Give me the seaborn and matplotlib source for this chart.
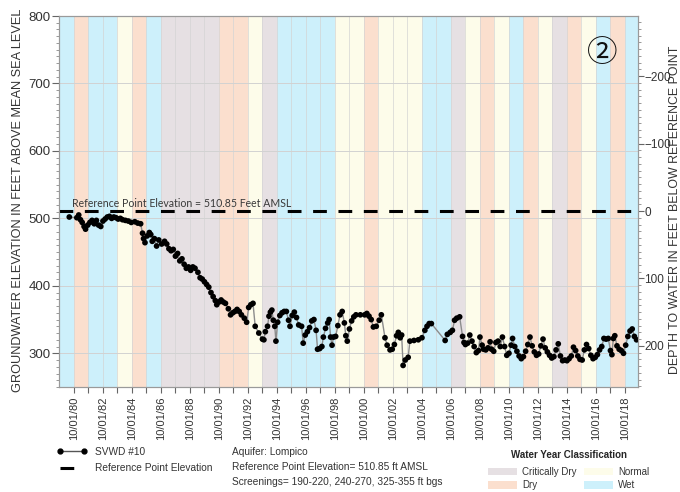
import matplotlib
matplotlib.use("Agg")
import matplotlib.pyplot as plt
import seaborn as sns
import pandas as pd
from matplotlib.lines import Line2D
from matplotlib.patches import Patch
from matplotlib.ticker import MultipleLocator, FixedLocator

# --- data -------------------------------------------------------------
REF_ELEV = 510.85

# water years 1980..2019 (W=wet, D=dry, C=critically dry, N=normal)
WATER_YEARS = list(range(1980, 2020))
WY_CLASS = ['W', 'D', 'W', 'W', 'N', 'D', 'W', 'C', 'C', 'C',
            'C', 'D', 'D', 'N', 'C', 'W', 'W', 'W', 'W', 'N',
            'N', 'D', 'N', 'N', 'N', 'W', 'W', 'C', 'N', 'D',
            'N', 'W', 'D', 'N', 'C', 'D', 'N', 'W', 'D', 'W']

# SVWD #10 measurements (decimal year, ft AMSL)
MEAS_YEAR = [
    1980.43, 1980.95, 1981.08, 1981.20, 1981.32, 1981.45, 1981.55, 1981.70, 1981.85, 1982.00,
    1982.15, 1982.30, 1982.45, 1982.60, 1982.75, 1982.90, 1983.05, 1983.20, 1983.35, 1983.50,
    1983.65, 1983.80, 1983.95, 1984.10, 1984.30, 1984.50, 1984.70, 1984.95, 1985.15, 1985.35,
    1985.48, 1985.55, 1985.65, 1985.80, 1985.95, 1986.05, 1986.15, 1986.30, 1986.45, 1986.60,
    1986.80, 1987.00, 1987.15, 1987.30, 1987.45, 1987.60, 1987.75, 1987.90, 1988.05, 1988.20,
    1988.35, 1988.50, 1988.65, 1988.80, 1988.95, 1989.10, 1989.30, 1989.45, 1989.60, 1989.75,
    1989.90, 1990.05, 1990.20, 1990.35, 1990.50, 1990.60, 1990.75, 1990.90, 1991.05, 1991.20,
    1991.40, 1991.55, 1991.70, 1991.85, 1992.00, 1992.15, 1992.30, 1992.50, 1992.66, 1992.80,
    1992.95, 1993.10, 1993.25, 1993.50, 1993.75, 1993.85, 1993.95, 1994.10, 1994.20, 1994.30,
    1994.40, 1994.50, 1994.60, 1994.68, 1994.80, 1994.95, 1995.10, 1995.25, 1995.40, 1995.55,
    1995.65, 1995.80, 1995.95, 1996.10, 1996.25, 1996.45, 1996.56, 1996.70, 1996.85, 1997.00,
    1997.15, 1997.30, 1997.45, 1997.55, 1997.70, 1997.85, 1997.95, 1998.10, 1998.25, 1998.35,
    1998.45, 1998.55, 1998.65, 1998.80, 1998.95, 1999.10, 1999.25, 1999.40, 1999.50, 1999.60,
    1999.75, 1999.90, 2000.05, 2000.20, 2000.50, 2000.80, 2000.95, 2001.10, 2001.25, 2001.40,
    2001.60, 2001.80, 2001.95, 2002.20, 2002.35, 2002.55, 2002.70, 2002.85, 2003.00, 2003.12,
    2003.25, 2003.35, 2003.45, 2003.60, 2003.80, 2003.92, 2004.20, 2004.50, 2004.75, 2004.95,
    2005.10, 2005.25, 2005.40, 2006.35, 2006.50, 2006.70, 2006.85, 2007.00, 2007.15, 2007.35,
    2007.55, 2007.65, 2007.75, 2007.90, 2008.05, 2008.20, 2008.35, 2008.50, 2008.65, 2008.75,
    2008.90, 2009.00, 2009.15, 2009.30, 2009.45, 2009.55, 2009.70, 2009.85, 2010.00, 2010.15,
    2010.30, 2010.45, 2010.60, 2010.75, 2010.90, 2011.00, 2011.15, 2011.30, 2011.45, 2011.60,
    2011.75, 2011.90, 2012.05, 2012.20, 2012.35, 2012.50, 2012.65, 2012.80, 2012.95, 2013.10,
    2013.25, 2013.40, 2013.55, 2013.70, 2013.85, 2014.00, 2014.15, 2014.30, 2014.45, 2014.60,
    2014.75, 2014.90, 2015.05, 2015.20, 2015.35, 2015.50, 2015.65, 2015.80, 2015.95, 2016.10,
    2016.25, 2016.40, 2016.55, 2016.70, 2016.85, 2017.00, 2017.15, 2017.30, 2017.45, 2017.60,
    2017.75, 2017.85, 2017.95, 2018.05, 2018.20, 2018.35, 2018.50, 2018.65, 2018.80, 2018.95,
    2019.10, 2019.25, 2019.40, 2019.55]
MEAS_ELEV = [
    502, 501, 505, 498, 494, 488, 484, 490, 494, 497,
    492, 497, 490, 488, 496, 499, 502, 503, 500, 502,
    501, 499, 500, 498, 497, 496, 494, 495, 493, 492,
    478, 470, 464, 474, 479, 476, 466, 470, 459, 468,
    462, 466, 462, 455, 452, 454, 444, 448, 437, 440,
    432, 426, 428, 423, 428, 426, 420, 412, 410, 406,
    402, 398, 390, 384, 378, 372, 376, 379, 376, 374,
    366, 357, 360, 362, 365, 362, 357, 352, 346, 368,
    372, 374, 340, 330, 321, 320, 332, 340, 355, 361,
    364, 349, 340, 318, 346, 356, 360, 362, 362, 349,
    340, 356, 361, 353, 342, 340, 315, 327, 332, 338,
    348, 350, 334, 306, 307, 310, 324, 337, 345, 350,
    324, 312, 324, 325, 341, 357, 362, 345, 326, 318,
    336, 348, 354, 357, 357, 357, 359, 355, 350, 339,
    340, 349, 357, 323, 312, 305, 306, 313, 326, 331,
    323, 327, 282, 290, 294, 318, 319, 320, 323, 334,
    340, 344, 344, 319, 328, 331, 334, 349, 352, 354,
    325, 316, 313, 315, 327, 318, 310, 301, 304, 324,
    312, 306, 305, 308, 317, 306, 303, 316, 318, 310,
    324, 310, 297, 300, 312, 322, 310, 303, 296, 292,
    295, 303, 313, 324, 311, 302, 297, 299, 311, 321,
    308, 302, 297, 293, 295, 305, 314, 296, 289, 290,
    289, 292, 296, 309, 304, 296, 291, 290, 305, 313,
    307, 297, 292, 294, 298, 305, 310, 322, 321, 322,
    304, 298, 322, 326, 311, 306, 304, 300, 312, 325,
    333, 336, 325, 320]

CLASS_NAMES = {'C': 'Critically Dry', 'D': 'Dry', 'N': 'Normal', 'W': 'Wet'}
CLASS_COLORS = {'C': '#e6e0e3', 'D': '#fbdfce', 'N': '#fdfcea', 'W': '#cdf0fb'}

XTICK_YEARS = list(range(1980, 2019, 2))

# --- style ------------------------------------------------------------
sns.set_theme(style="ticks")
plt.rcParams['font.family'] = ['Liberation Sans', 'DejaVu Sans']
TXT = '#333333'

df = pd.DataFrame({'year': MEAS_YEAR, 'elev': MEAS_ELEV})

W, H = 680, 492
fig = plt.figure(figsize=(W / 100, H / 100), dpi=100)
ax = fig.add_axes([59 / W, 1 - 387 / H, (638 - 59) / W, (387 - 16) / H])

# water year background bands
for wy, cls in zip(WATER_YEARS, WY_CLASS):
    ax.axvspan(wy - 0.25, wy + 0.75, color=CLASS_COLORS[cls], lw=0, zorder=0)
    ax.axvline(wy - 0.25, color='#d4d4d4', lw=0.5, zorder=0.5)

for gy in [300, 400, 500, 600, 700]:
    ax.axhline(gy, color='#d2d2d2', lw=0.7, zorder=0.6)

# reference point line
ax.axhline(REF_ELEV, color='black', lw=2.2, dashes=(4.5, 3.8), zorder=3)
ax.text(1980.62, 522, 'Reference Point Elevation = 510.85 Feet AMSL',
        fontsize=7.6, color='#3a3a3a', family=['Lato', 'DejaVu Sans'], va='center', zorder=4)

# hydrograph
sns.lineplot(data=df, x='year', y='elev', ax=ax, color='#8c8c8c', lw=1.0, zorder=4,
             estimator=None, sort=False)
sns.scatterplot(data=df, x='year', y='elev', ax=ax, color='black', s=17,
                edgecolor='none', zorder=5)

ax.set_xlim(1979.72, 2019.65)
ax.set_ylim(250, 800)
ax.set_xlabel('')
ax.set_ylabel('')

ax.xaxis.set_major_locator(FixedLocator([y + 0.75 for y in XTICK_YEARS]))
ax.set_xticklabels(['10/01/%02d' % (y % 100) for y in XTICK_YEARS],
                   rotation=90, fontsize=8, color=TXT)
ax.xaxis.set_minor_locator(FixedLocator([y + 0.75 for y in range(1981, 2019, 2)]))
ax.tick_params(axis='x', which='both', length=4, width=0.8, color='#666666', pad=3)

ax.yaxis.set_major_locator(FixedLocator([300, 400, 500, 600, 700, 800]))
ax.yaxis.set_minor_locator(MultipleLocator(10))
ax.tick_params(axis='y', which='major', length=5, width=0.8, color='#666666',
               labelsize=9.5, labelcolor=TXT, pad=1)
ax.tick_params(axis='y', which='minor', length=2.5, width=0.6, color='#888888')

for s in ax.spines.values():
    s.set_color('#9a9a9a')
    s.set_linewidth(0.8)

# right axis: depth below reference point
ax2 = ax.twinx()
ax2.set_ylim(REF_ELEV - 250, REF_ELEV - 800)
ax2.yaxis.set_major_locator(FixedLocator([-200, -100, 0, 100, 200]))
ax2.yaxis.set_minor_locator(MultipleLocator(10))
ax2.tick_params(axis='y', which='major', length=4, width=0.8, color='#666666',
                labelsize=8.5, labelcolor=TXT, pad=0.5)
ax2.tick_params(axis='y', which='minor', length=2.5, width=0.6, color='#888888')
for s in ax2.spines.values():
    s.set_color('#9a9a9a')
    s.set_linewidth(0.8)

ax.text(0.938, 0.898, '\u2461', transform=ax.transAxes, fontsize=22,
        family=['Noto Sans CJK JP', 'DejaVu Sans'], ha='center', va='center', color='#111111')

# axis titles
fig.text(18 / W, 1 - 200 / H, 'GROUNDWATER ELEVATION IN FEET ABOVE MEAN SEA LEVEL',
         rotation=90, fontsize=9.2, color=TXT, ha='center', va='center')
fig.text(674.5 / W, 1 - 210 / H, 'DEPTH TO WATER IN FEET BELOW REFERENCE POINT',
         rotation=90, fontsize=8.9, color=TXT, ha='center', va='center')

# legends
h1 = [Line2D([], [], color='#555555', lw=1, marker='o', markersize=3.5,
             markerfacecolor='black', markeredgecolor='black'),
      Line2D([], [], color='black', lw=2.2, dashes=(4.5, 3.8))]
fig.legend(h1, ['SVWD #10', 'Reference Point Elevation'], loc='upper left',
           bbox_to_anchor=(57 / W, 1 - 447 / H), frameon=False, fontsize=7.3,
           handlelength=3.0, handletextpad=0.7, labelspacing=0.6, borderpad=0,
           borderaxespad=0, numpoints=2, labelcolor=TXT)

fig.text(232 / W, 1 - 447 / H,
         'Aquifer: Lompico\nReference Point Elevation= 510.85 ft AMSL\n'
         'Screenings= 190-220, 240-270, 325-355 ft bgs',
         fontsize=7.3, color=TXT, va='top', ha='left', linespacing=1.6)

order = ['C', 'D', 'N', 'W']
h2 = [Patch(facecolor=CLASS_COLORS[c], edgecolor='none') for c in order]
fig.legend(h2, [CLASS_NAMES[c] for c in order], ncol=2, loc='upper left',
           bbox_to_anchor=(488 / W, 1 - 450 / H), frameon=False, fontsize=7,
           title='Water Year Classification',
           title_fontproperties={'weight': 'bold', 'size': 7},
           handlelength=3.0, handleheight=0.8, handletextpad=0.5,
           columnspacing=0.8, labelspacing=0.35, borderpad=0, borderaxespad=0,
           labelcolor=TXT)
fig.legends[-1]._legend_box.sep = 5

fig.savefig('out.png', dpi=100)
